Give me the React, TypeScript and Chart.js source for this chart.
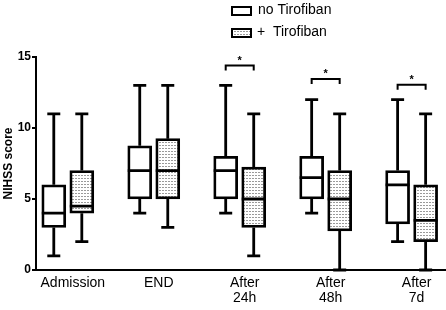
import React, { useEffect, useRef } from 'react';
import { Chart, registerables } from 'chart.js';

Chart.register(...registerables);

// ---- data ----
const categories: string[][] = [['Admission'], ['END'], ['After', '24h'], ['After', '48h'], ['After', '7d']];
const seriesNames = ['no Tirofiban', '+  Tirofiban'];

const noMin = [1, 4, 4, 4, 2];
const noQ1 = [3, 5, 5, 5, 3.25];
const noMed = [4, 7, 7, 6.5, 6];
const noQ3 = [6, 8.75, 8, 8, 7];
const noMax = [11, 13, 13, 12, 12];

const tiMin = [2, 3, 1, 0, 0];
const tiQ1 = [4, 5, 3, 2.75, 2];
const tiMed = [4.5, 7, 5, 5, 3.5];
const tiQ3 = [7, 9.25, 7.25, 7, 6];
const tiMax = [11, 13, 11, 11, 11];

const sigGroups = [3, 4, 5];
const sigHeights = [14.4, 13.45, 13.05];

const yTicks = [0, 5, 10, 15];
const yTitle = 'NIHSS score';

// ---- styling ----
const FONT = 'Arial, "Liberation Sans", Helvetica, sans-serif';
const OFF = 0.163;
const BOX = 24;
const CAP = 13;
const LW = 2.8;

function makePattern(): CanvasPattern | string {
  const c = document.createElement('canvas');
  c.width = 3;
  c.height = 3;
  const g = c.getContext('2d');
  if (!g) return '#ddd';
  g.fillStyle = '#ffffff';
  g.fillRect(0, 0, 3, 3);
  g.fillStyle = '#9a9a9a';
  g.fillRect(0, 1, 2, 1);
  const p = g.createPattern(c, 'repeat');
  return p || '#ddd';
}

const seriesStats = [
  { min: noMin, q1: noQ1, med: noMed, q3: noQ3, max: noMax },
  { min: tiMin, q1: tiQ1, med: tiMed, q3: tiQ3, max: tiMax },
];

export default function App() {
  const ref = useRef<HTMLCanvasElement>(null);

  useEffect(() => {
    if (!ref.current) return;
    const pattern = makePattern();

    const boxPlugin = {
      id: 'boxWhiskers',
      afterDatasetsDraw(chart: any) {
        const { ctx } = chart;
        const y = chart.scales.y;
        const x = chart.scales.x;
        ctx.save();
        ctx.strokeStyle = '#000';
        ctx.lineWidth = LW;
        ctx.lineCap = 'butt';
        seriesStats.forEach((s, d) => {
          const meta = chart.getDatasetMeta(d);
          meta.data.forEach((bar: any, i: number) => {
            const cx = bar.x;
            const half = bar.width / 2;
            const yMin = y.getPixelForValue(s.min[i]);
            const yMax = y.getPixelForValue(s.max[i]);
            const yQ1 = y.getPixelForValue(s.q1[i]);
            const yQ3 = y.getPixelForValue(s.q3[i]);
            const yMed = y.getPixelForValue(s.med[i]);
            ctx.beginPath();
            ctx.moveTo(cx, yQ3);
            ctx.lineTo(cx, yMax);
            ctx.moveTo(cx - CAP / 2, yMax);
            ctx.lineTo(cx + CAP / 2, yMax);
            ctx.moveTo(cx, yQ1);
            ctx.lineTo(cx, yMin);
            ctx.moveTo(cx - CAP / 2, yMin);
            ctx.lineTo(cx + CAP / 2, yMin);
            ctx.moveTo(cx - half, yMed);
            ctx.lineTo(cx + half, yMed);
            ctx.stroke();
          });
        });
        // significance brackets
        ctx.lineWidth = 2;
        sigGroups.forEach((g, k) => {
          const x1 = x.getPixelForValue(g - OFF);
          const x2 = x.getPixelForValue(g + OFF);
          const yy = y.getPixelForValue(sigHeights[k]);
          ctx.beginPath();
          ctx.moveTo(x1, yy + 5);
          ctx.lineTo(x1, yy);
          ctx.lineTo(x2, yy);
          ctx.lineTo(x2, yy + 5);
          ctx.stroke();
          ctx.fillStyle = '#000';
          ctx.font = `bold 11px ${FONT}`;
          ctx.textAlign = 'center';
          ctx.textBaseline = 'middle';
          ctx.fillText('*', (x1 + x2) / 2, yy - 5);
        });
        ctx.restore();
      },
      afterDraw(chart: any) {
        const { ctx } = chart;
        ctx.save();
        ctx.lineWidth = 2;
        ctx.strokeStyle = '#000';
        // item 1
        ctx.fillStyle = '#fff';
        ctx.fillRect(232, 7, 19, 8);
        ctx.strokeRect(232, 7, 19, 8);
        // item 2
        ctx.fillStyle = pattern;
        ctx.fillRect(232, 29, 19, 8);
        ctx.strokeRect(232, 29, 19, 8);
        ctx.fillStyle = '#000';
        ctx.font = `14px ${FONT}`;
        ctx.textAlign = 'left';
        ctx.textBaseline = 'middle';
        ctx.fillText(seriesNames[0], 258, 10.5);
        ctx.fillText(seriesNames[1], 257, 32.5);
        ctx.restore();
      },
    };

    const chart = new Chart(ref.current, {
      type: 'bar',
      data: {
        datasets: seriesStats.map((s, d) => ({
          label: seriesNames[d],
          data: s.q1.map((v, i) => ({ x: i + 1 + (d === 0 ? -OFF : OFF), y: [v, s.q3[i]] })) as any,
          backgroundColor: d === 0 ? '#ffffff' : (pattern as any),
          borderColor: '#000',
          borderWidth: LW,
          borderSkipped: false,
          barThickness: BOX,
          grouped: false,
        })),
      },
      options: {
        animation: false,
        responsive: true,
        maintainAspectRatio: false,
        layout: { padding: { top: 57, right: 0, left: 0, bottom: 0 } },
        plugins: {
          legend: { display: false },
          tooltip: { enabled: false },
        },
        scales: {
          x: {
            type: 'linear',
            offset: false,
            min: 0.63,
            max: 5.4,
            afterBuildTicks: (scale: any) => {
              scale.ticks = categories.map((_, i) => ({ value: i + 1 }));
            },
            afterFit: (scale: any) => {
              scale.height = 40;
            },
            ticks: {
              autoSkip: false,
              maxRotation: 0,
              padding: 6,
              labelOffset: 5,
              color: '#000',
              font: { family: FONT, size: 14, lineHeight: 1.05 },
              callback: (v: any) => categories[Math.round(Number(v)) - 1] || '',
            },
            grid: { display: true, drawOnChartArea: false, drawTicks: false },
            border: { display: true, color: '#000', width: 2 },
          },
          y: {
            min: 0,
            max: 15,
            afterBuildTicks: (scale: any) => {
              scale.ticks = yTicks.map((v) => ({ value: v }));
            },
            afterFit: (scale: any) => {
              scale.width = 36;
            },
            ticks: {
              padding: 1,
              color: '#000',
              font: { family: FONT, size: 12, weight: 'bold' },
            },
            grid: { display: true, drawOnChartArea: false, drawTicks: true, tickLength: 4, color: '#000', lineWidth: 2 },
            border: { display: true, color: '#000', width: 2 },
            title: {
              display: true,
              text: yTitle,
              color: '#000',
              padding: { top: 1, bottom: 0 },
              font: { family: FONT, size: 12, weight: 'bold' },
            },
          },
        },
      },
      plugins: [boxPlugin],
    });
    return () => chart.destroy();
  }, []);

  return (
    <div style={{ position: 'fixed', left: 0, top: 0, width: 446, height: 310, background: '#fff' }}>
      <canvas ref={ref} />
    </div>
  );
}
